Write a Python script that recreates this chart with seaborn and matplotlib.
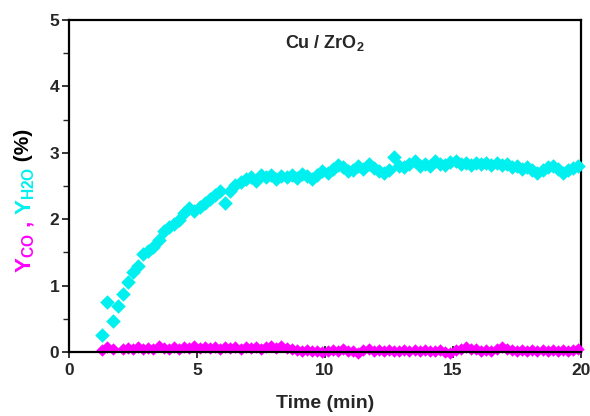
import numpy as np
import pandas as pd
import matplotlib
matplotlib.use("Agg")
import matplotlib.pyplot as plt
import seaborn as sns

# ---- data ----
time_min = [1.3, 1.5, 1.7, 1.9, 2.1, 2.3, 2.5, 2.7, 2.9, 3.1,
            3.3, 3.5, 3.7, 3.9, 4.1, 4.3, 4.5, 4.7, 4.9, 5.1,
            5.3, 5.5, 5.7, 5.9, 6.1, 6.3, 6.5, 6.7, 6.9, 7.1,
            7.3, 7.5, 7.7, 7.9, 8.1, 8.3, 8.5, 8.7, 8.9, 9.1,
            9.3, 9.5, 9.7, 9.9, 10.1, 10.3, 10.5, 10.7, 10.9, 11.1,
            11.3, 11.5, 11.7, 11.9, 12.1, 12.3, 12.5, 12.7, 12.9, 13.1,
            13.3, 13.5, 13.7, 13.9, 14.1, 14.3, 14.5, 14.7, 14.9, 15.1,
            15.3, 15.5, 15.7, 15.9, 16.1, 16.3, 16.5, 16.7, 16.9, 17.1,
            17.3, 17.5, 17.7, 17.9, 18.1, 18.3, 18.5, 18.7, 18.9, 19.1,
            19.3, 19.5, 19.7, 19.9]

y_h2o = [0.25, 0.75, 0.47, 0.70, 0.88, 1.05, 1.20, 1.30, 1.48, 1.52,
         1.58, 1.68, 1.82, 1.88, 1.93, 1.99, 2.10, 2.17, 2.12, 2.18,
         2.24, 2.30, 2.36, 2.42, 2.24, 2.42, 2.52, 2.56, 2.60, 2.64,
         2.58, 2.66, 2.63, 2.67, 2.60, 2.65, 2.64, 2.67, 2.62, 2.68,
         2.65, 2.61, 2.67, 2.72, 2.70, 2.76, 2.82, 2.78, 2.73, 2.74,
         2.80, 2.76, 2.83, 2.77, 2.72, 2.70, 2.74, 2.93, 2.80, 2.78,
         2.83, 2.87, 2.80, 2.83, 2.80, 2.87, 2.83, 2.82, 2.86, 2.88,
         2.83, 2.85, 2.82, 2.85, 2.83, 2.84, 2.82, 2.84, 2.81, 2.83,
         2.79, 2.80, 2.76, 2.78, 2.74, 2.70, 2.74, 2.78, 2.80, 2.75,
         2.70, 2.74, 2.77, 2.80]

y_co = [0.03, 0.07, 0.04, np.nan, 0.04, 0.06, 0.05, 0.07, 0.05, 0.06,
        0.05, 0.09, 0.06, 0.05, 0.07, 0.05, 0.08, 0.06, 0.09, 0.06,
        0.07, 0.06, 0.07, 0.05, 0.07, 0.06, 0.07, 0.05, 0.08, 0.06,
        0.07, 0.05, 0.07, 0.09, 0.06, 0.09, 0.06, 0.05, 0.03, 0.01,
        0.03, 0.01, 0.02, 0.00, 0.02, 0.03, 0.01, 0.04, 0.02, 0.01,
        -0.01, 0.03, 0.04, 0.02, 0.03, 0.01, 0.03, 0.02, 0.01, 0.03,
        0.01, 0.03, 0.01, 0.03, 0.02, 0.01, 0.03, 0.00, -0.01, 0.03,
        0.05, 0.07, 0.04, 0.05, 0.02, 0.03, 0.02, 0.04, 0.07, 0.04,
        0.03, 0.02, 0.03, 0.01, 0.03, 0.02, 0.03, 0.01, 0.03, 0.02,
        0.03, 0.02, 0.03, 0.04]

x_ticks = [0, 5, 10, 15, 20]
y_ticks = [0, 1, 2, 3, 4, 5]
title_text = r"Cu / ZrO$_\mathbf{2}$"
x_label = "Time (min)"

CYAN = "#00F0F0"
MAGENTA = "#FF00FF"

df = pd.DataFrame({"time": time_min, "h2o": y_h2o, "co": y_co})

sns.set_style("ticks")
plt.rcParams["font.family"] = ["Liberation Sans", "DejaVu Sans"]
plt.rcParams["font.weight"] = "bold"
plt.rcParams["mathtext.fontset"] = "custom"
plt.rcParams["mathtext.rm"] = "Liberation Sans:bold"
plt.rcParams["mathtext.bf"] = "Liberation Sans:bold"
plt.rcParams["mathtext.it"] = "Liberation Sans:bold"

fig = plt.figure(figsize=(5.9, 4.16), dpi=100)
ax = fig.add_axes([69 / 590, 64 / 416, 512 / 590, 332 / 416])

sns.scatterplot(data=df, x="time", y="h2o", ax=ax, marker="D", s=55,
                color=CYAN, linewidth=0, clip_on=False, zorder=3)
sns.scatterplot(data=df, x="time", y="co", ax=ax, marker="D", s=40,
                color=MAGENTA, linewidth=0, clip_on=False, zorder=3)

ax.set_xlim(0, 20)
ax.set_ylim(0, 5)
ax.set_xticks(x_ticks)
ax.set_yticks(y_ticks)
ax.set_xticks([2.5, 7.5, 12.5, 17.5], minor=True)
ax.set_yticks([0.5, 1.5, 2.5, 3.5, 4.5], minor=True)
ax.set_xticklabels([str(v) for v in x_ticks], fontsize=12.5, fontweight="bold")
ax.set_yticklabels([str(v) for v in y_ticks], fontsize=12.5, fontweight="bold")
ax.tick_params(axis="x", which="major", direction="inout", length=8, width=1.3, pad=4)
ax.tick_params(axis="x", which="minor", direction="in", length=4, width=1.0)
ax.tick_params(axis="y", which="major", direction="out", length=5, width=1.3, pad=2)
ax.tick_params(axis="y", which="minor", direction="out", length=4, width=1.0)
for side in ["left", "bottom", "right", "top"]:
    ax.spines[side].set_visible(True)
    ax.spines[side].set_linewidth(1.6)
    ax.spines[side].set_color("black")
ax.spines["bottom"].set_zorder(4)

ax.set_xlabel(x_label, fontsize=14, fontweight="bold", labelpad=12)
ax.set_ylabel("")
ax.text(0.5, 0.93, title_text, transform=ax.transAxes, ha="center", va="center",
        fontsize=13, fontweight="bold")

# multi-coloured y label, built bottom-to-top
parts = [(r"$\mathbf{Y_{CO}}$", MAGENTA, 16),
         (" , ", MAGENTA, 16),
         (r"$\mathbf{Y_{H2O}}$", CYAN, 16),
         (" (%)", "black", 15)]
prev = fig.text(14 / 590, 1 - 273 / 416, parts[0][0], color=parts[0][1],
                fontsize=parts[0][2], fontweight="bold", rotation=90,
                ha="left", va="bottom")
for txt, col, fs in parts[1:]:
    prev = ax.annotate(txt, xy=(0, 1), xycoords=prev, ha="left", va="bottom",
                       rotation=90, color=col, fontsize=fs, fontweight="bold",
                       annotation_clip=False)

fig.savefig("out.png", dpi=100)
